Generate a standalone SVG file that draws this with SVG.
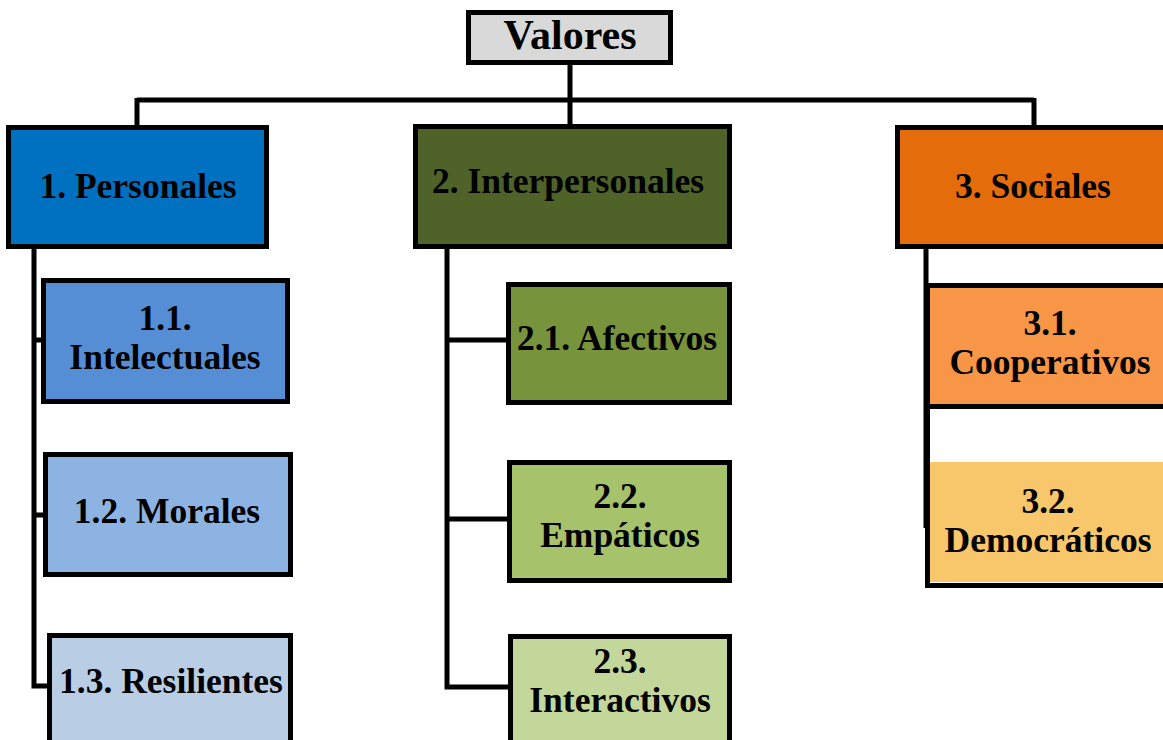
<svg xmlns="http://www.w3.org/2000/svg" width="1163" height="740" viewBox="0 0 1163 740">
<style>
.box{stroke:#000;stroke-width:5}
.t{font-family:"Liberation Serif","Times New Roman",serif;font-weight:bold;font-size:35.5px;fill:#000;text-anchor:middle}
.c{fill:none;stroke:#000;stroke-width:5}
</style>
<rect width="1163" height="740" fill="#fff"/>
<g id="connectors">
<path class="c" d="M570 65V126M137 100H1034M137 98V127M1034 98V127"/>
<path class="c" d="M34 249V686H49M34 340H43M34 515H45"/>
<path class="c" d="M447 249V687H510M447 340H508M447 519H509"/>
<path class="c" d="M926 249V528"/>
</g>
<g id="valores"><rect class="box" x="468.5" y="12.5" width="202" height="50" fill="#d9d9d9"/><text class="t" x="570" y="49" style="font-size:42px">Valores</text></g>
<g id="n1"><rect class="box" x="8.5" y="127.5" width="258" height="119" fill="#0070c0"/><text class="t" x="138" y="198">1. Personales</text></g>
<g id="n11"><rect class="box" x="43.5" y="280.5" width="244" height="121" fill="#558ed5"/><text class="t" x="165" y="330">1.1.</text><text class="t" x="165" y="369">Intelectuales</text></g>
<g id="n12"><rect class="box" x="45.5" y="454.5" width="245" height="120" fill="#8db3e2"/><text class="t" x="167" y="523">1.2. Morales</text></g>
<g id="n13"><rect class="box" x="49.5" y="635.5" width="241" height="130" fill="#b9cde5"/><text class="t" x="171" y="693">1.3. Resilientes</text></g>
<g id="n2"><rect class="box" x="415.5" y="126.5" width="314" height="120" fill="#4f6228"/><text class="t" x="568" y="193">2. Interpersonales</text></g>
<g id="n21"><rect class="box" x="508.5" y="284.5" width="221" height="118" fill="#77933c"/><text class="t" x="617" y="350">2.1. Afectivos</text></g>
<g id="n22"><rect class="box" x="509.5" y="462.5" width="220" height="118" fill="#a6c26a"/><text class="t" x="620" y="508">2.2.</text><text class="t" x="620" y="547">Empáticos</text></g>
<g id="n23"><rect class="box" x="510.5" y="636.5" width="219" height="130" fill="#c4d79b"/><text class="t" x="620" y="673">2.3.</text><text class="t" x="620" y="712">Interactivos</text></g>
<g id="n3"><rect class="box" x="897.5" y="127.5" width="300" height="119" fill="#e46c0a"/><text class="t" x="1033" y="198">3. Sociales</text></g>
<g id="n31"><rect class="box" x="927.5" y="285.5" width="300" height="121" fill="#f79646"/><text class="t" x="1050" y="335">3.1.</text><text class="t" x="1050" y="374">Cooperativos</text></g>
<g id="n32"><rect class="box" x="927.5" y="406.5" width="300" height="179" fill="#fff"/><rect x="930" y="462" width="240" height="120" fill="#f8c66b"/><text class="t" x="1048" y="513">3.2.</text><text class="t" x="1048" y="552">Democráticos</text></g>
</svg>
